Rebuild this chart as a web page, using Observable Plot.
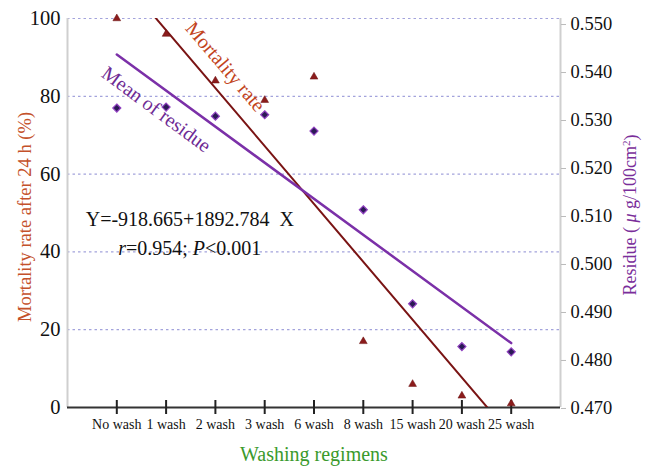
<!DOCTYPE html>
<html>
<head>
<meta charset="utf-8">
<script src="https://cdn.jsdelivr.net/npm/d3@7"></script>
<script src="https://cdn.jsdelivr.net/npm/@observablehq/plot@0.6"></script>
<style>
  html, body { margin: 0; padding: 0; background: #fff; }
  #chart { width: 648px; height: 467px; }
  #chart svg text { font-family: 'Liberation Serif', 'Times New Roman', serif; font-variant: normal; }
</style>
</head>
<body>
<div id="chart"></div>
<script>
// ---------- data ----------
const categories = ["No wash", "1 wash", "2 wash", "3 wash", "6 wash", "8 wash", "15 wash", "20 wash", "25 wash"];
const mortality = [100, 96, 84, 79, 85, 17, 6, 3, 1];                 // % after 24 h
const residue = [0.5326, 0.5328, 0.5309, 0.5312, 0.5278, 0.5114, 0.4918, 0.4829, 0.4818]; // µg/100cm²
const leftTicks = [0, 20, 40, 60, 80, 100];
const gridTicks = [20, 40, 60, 80, 100];
const rightTicks = [0.470, 0.480, 0.490, 0.500, 0.510, 0.520, 0.530, 0.540, 0.550];
const rightDomain = [0.47, 0.55];
const equationLines = ["Y=-918.665+1892.784\u00a0\u00a0X", "r=0.954; P<0.001"];
const lineLabels = ["Mortality rate", "Mean of residue"];
const titles = {
  x: "Washing regimens",
  left: "Mortality rate after 24 h (%)",
  right: "Residue ( \u03bc g/100cm2)"
};

// map the right (residue) axis onto the left (mortality) scale
const rightSpan = 98.7, rightShift = -0.25;
const toLeft = v => (v - rightDomain[0]) / (rightDomain[1] - rightDomain[0]) * rightSpan + rightShift;
const fromLeft = u => (u - rightShift) / rightSpan * (rightDomain[1] - rightDomain[0]) + rightDomain[0];

const idx = categories.map((c, i) => i);
const rows = categories.map((c, i) => ({i, c, m: mortality[i], r: toLeft(residue[i])}));
const xDomain = [-1, categories.length];

const notes = [
  {text: lineLabels[0], x: 2.2, y: 87.6, rotate: 49.5, color: "#c2441c"},
  {text: lineLabels[1], x: 0.8, y: 76.6, rotate: 36.5, color: "#6e2a94"}
];
const eq = [
  {text: equationLines[0], x: 1.48, y: 48.3},
  {text: equationLines[1], x: 1.48, y: 40.9}
];

const serif = "'Liberation Serif', 'Times New Roman', serif";

const chart = Plot.plot({
  width: 648,
  height: 467,
  marginLeft: 67,
  marginRight: 88,
  marginTop: 18,
  marginBottom: 60,
  style: {fontFamily: serif, background: "#fff", color: "#111"},
  x: {type: "linear", domain: xDomain, axis: null},
  y: {domain: [0, 100], axis: null},
  marks: [
    Plot.gridY(gridTicks, {stroke: "#a3a3dc", strokeOpacity: 1, strokeDasharray: "2.5,3", strokeWidth: 1.2}),
    Plot.ruleX([xDomain[0]], {stroke: "#cfcfcf", strokeWidth: 2}),
    Plot.ruleX([xDomain[1]], {stroke: "#cfcfcf", strokeWidth: 2}),
    Plot.axisY(leftTicks, {anchor: "left", tickSize: 0, tickPadding: 7, fontSize: 20.5, fontFamily: serif, fill: "#111", label: null}),
    Plot.axisY(rightTicks.map(toLeft), {anchor: "right", tickSize: 5, tickPadding: 5, stroke: "#bbb", fill: "#111", fontSize: 18.5, fontFamily: serif, label: null,
      tickFormat: d => fromLeft(d).toFixed(3)}),
    Plot.ruleY([0], {stroke: "#333", strokeWidth: 2}),
    Plot.axisX(idx, {anchor: "bottom", tickSize: 14, dy: -7, tickFormat: () => "", stroke: "#222", strokeWidth: 2, label: null}),
    Plot.axisX(idx, {anchor: "bottom", tickSize: 0, tickPadding: 12, fontSize: 14, fontFamily: serif, fill: "#111", label: null,
      tickFormat: i => categories[i]}),
    Plot.linearRegressionY(rows, {x: "i", y: "m", stroke: "#7a1414", strokeWidth: 2, ci: 0, clip: true}),
    Plot.linearRegressionY(rows, {x: "i", y: "r", stroke: "#7b30a8", strokeWidth: 2.5, ci: 0, clip: true}),
    Plot.dot(rows, {x: "i", y: "m", symbol: "triangle", r: 2.9, fill: "#8b1c1c", stroke: "#6a1010", strokeWidth: 0.5}),
    Plot.dot(rows, {x: "i", y: "r", symbol: "diamond2", r: 3.6, fill: "#2b1a55", stroke: "#9040c0", strokeWidth: 1.2}),
    Plot.text(notes, {x: "x", y: "y", text: "text", rotate: "rotate", fill: "color", fontSize: 20}),
    Plot.text(eq, {x: "x", y: "y", text: "text", fill: "#111", fontSize: 20}),
    Plot.text([titles.x], {frameAnchor: "bottom", dy: 53, fill: "#3a9a2c", fontSize: 20}),
    Plot.text([titles.left], {frameAnchor: "left", textAnchor: "middle", dx: -42, dy: 4, rotate: -90, fill: "#c4512a", fontSize: 18.5}),
    Plot.text([titles.right], {frameAnchor: "right", textAnchor: "middle", dx: 70, dy: 2, rotate: -90, fill: "#7a2e9a", fontSize: 18})
  ]
});

// rich text touches: italic r / P / μ, superscript 2
d3.select(chart).selectAll("text").each(function () {
  const t = this.textContent;
  if (t === equationLines[1]) {
    const el = d3.select(this); el.text("");
    el.append("tspan").attr("font-style", "italic").text("r");
    el.append("tspan").text("=0.954; ");
    el.append("tspan").attr("font-style", "italic").text("P");
    el.append("tspan").text("<0.001");
  } else if (t === titles.right) {
    const el = d3.select(this); el.text("");
    el.append("tspan").text("Residue ( ");
    el.append("tspan").attr("font-style", "italic").text("\u03bc");
    el.append("tspan").text(" g/100cm");
    el.append("tspan").attr("font-size", 11).attr("dy", "-0.6em").text("2");
    el.append("tspan").attr("dy", "0.4em").text(")");
  }
});

document.getElementById("chart").appendChild(chart);
</script>
</body>
</html>
